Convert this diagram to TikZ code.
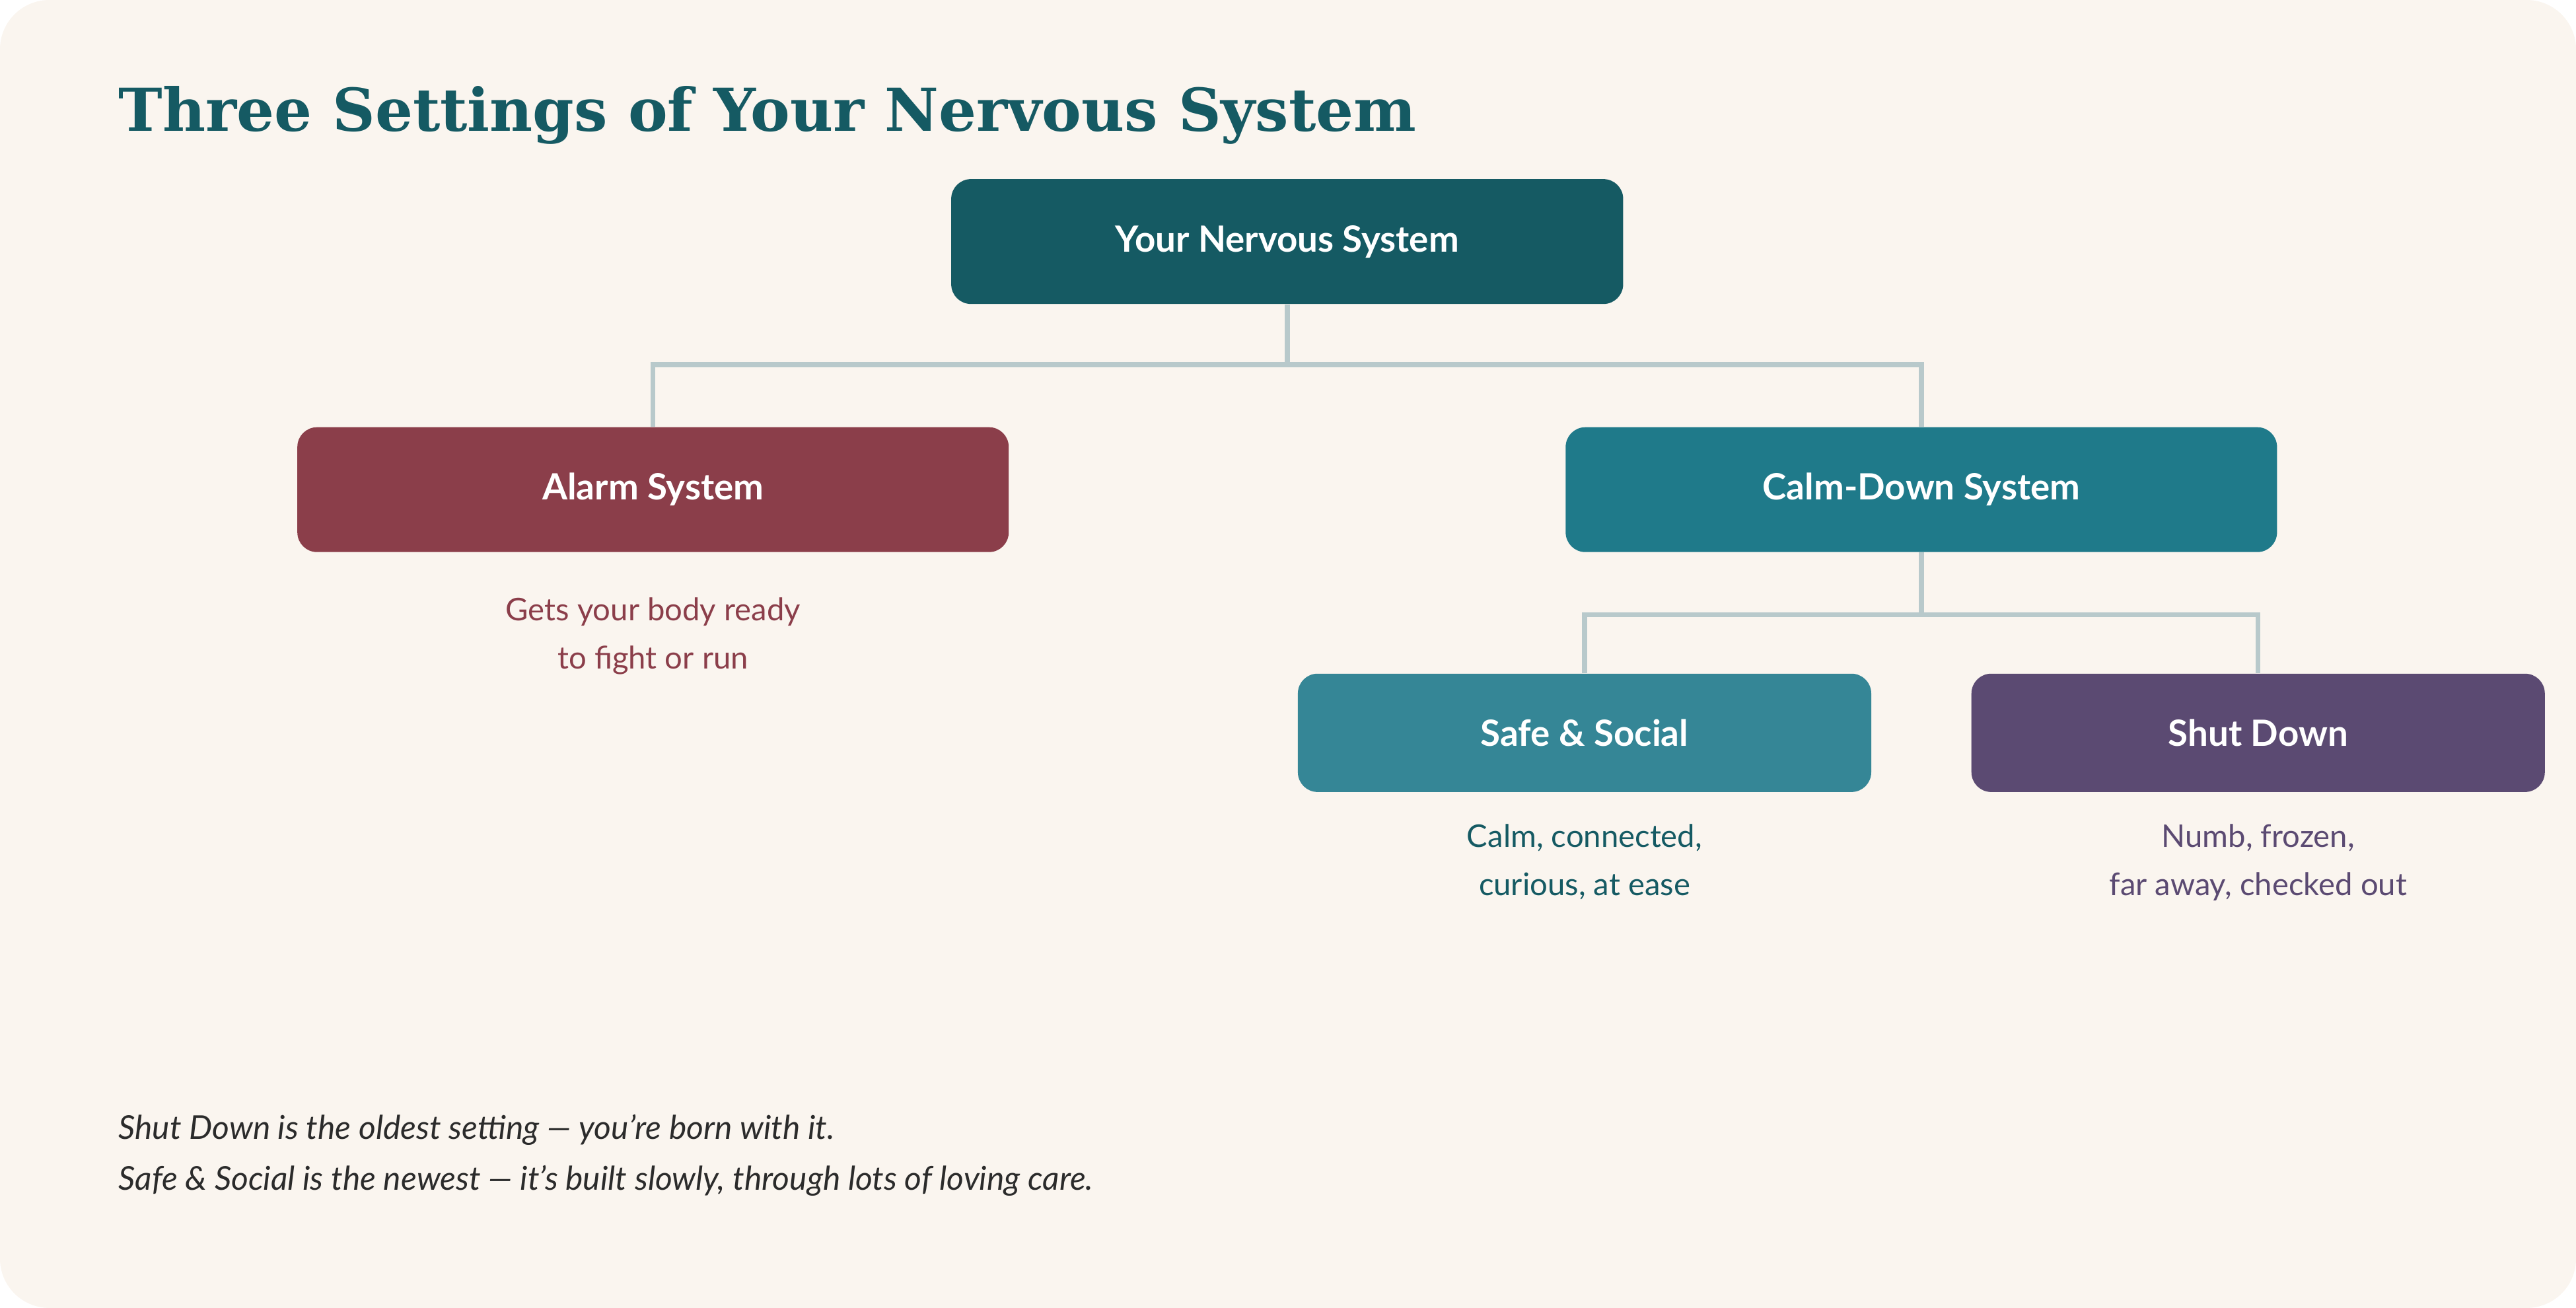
\documentclass[tikz,border=0pt]{standalone}
\usepackage{fontspec}
\setmainfont{Lato}
\newfontfamily\titlefont{DejaVu Serif}
\definecolor{bg}{HTML}{FAF5EF}
\definecolor{deep}{HTML}{155A63}
\definecolor{alarm}{HTML}{8B3E4A}
\definecolor{calm}{HTML}{1F7A8A}
\definecolor{safe}{HTML}{358696}
\definecolor{shut}{HTML}{5B4A72}
\definecolor{line}{HTML}{B8C9CB}
\definecolor{ink}{HTML}{2B2B2B}
\begin{document}
\begin{tikzpicture}[x=1pt,y=-1pt,
  box/.style={rounded corners=12pt,text=white,font=\fontsize{22}{26}\selectfont\bfseries,inner sep=0pt},
  desc/.style={align=center,font=\fontsize{19}{29.5}\selectfont},
  conn/.style={draw=line,line width=3pt}]
\useasboundingbox (0,0) rectangle (1568,796);
\fill[bg,rounded corners=30pt] (0,0) rectangle (1568,796);
\node[anchor=base west,text=deep,font=\titlefont\fontsize{36}{40}\selectfont\bfseries,inner sep=0pt] (title) at (72,80) {Three Settings of Your Nervous System};
\node[box,fill=deep,minimum width=409pt,minimum height=76pt] (root) at (783.5,147) {Your Nervous System};
\node[box,fill=alarm,minimum width=433pt,minimum height=76pt] (alarm) at (397.5,298) {Alarm System};
\node[box,fill=calm,minimum width=433pt,minimum height=76pt] (calmd) at (1169.5,298) {Calm-Down System};
\node[box,fill=safe,minimum width=349pt,minimum height=72pt] (safe) at (964.5,446) {Safe \& Social};
\node[box,fill=shut,minimum width=349pt,minimum height=72pt] (shutd) at (1374.5,446) {Shut Down};
\coordinate (j1) at (783.5,222);
\coordinate (j2) at (1169.5,374);
\draw[conn] (root.south) -- (j1) (alarm.north) |- (j1) -| (calmd.north);
\draw[conn] (calmd.south) -- (j2) (safe.north) |- (j2) -| (shutd.north);
\node[desc,text=alarm,anchor=north] (alarmd) at (397.5,360) {Gets your body ready\\to fight or run};
\node[desc,text=deep,anchor=north] (safed) at (964.5,498) {Calm, connected,\\curious, at ease};
\node[desc,text=shut,anchor=north] (shutdd) at (1374.5,498) {Numb, frozen,\\far away, checked out};
\node[anchor=north west,align=left,text=ink,font=\fontsize{20}{31}\selectfont\itshape,inner sep=0pt] (foot) at (72,678) {Shut Down is the oldest setting — you're born with it.\\Safe \& Social is the newest — it's built slowly, through lots of loving care.};
\end{tikzpicture}
\end{document}
